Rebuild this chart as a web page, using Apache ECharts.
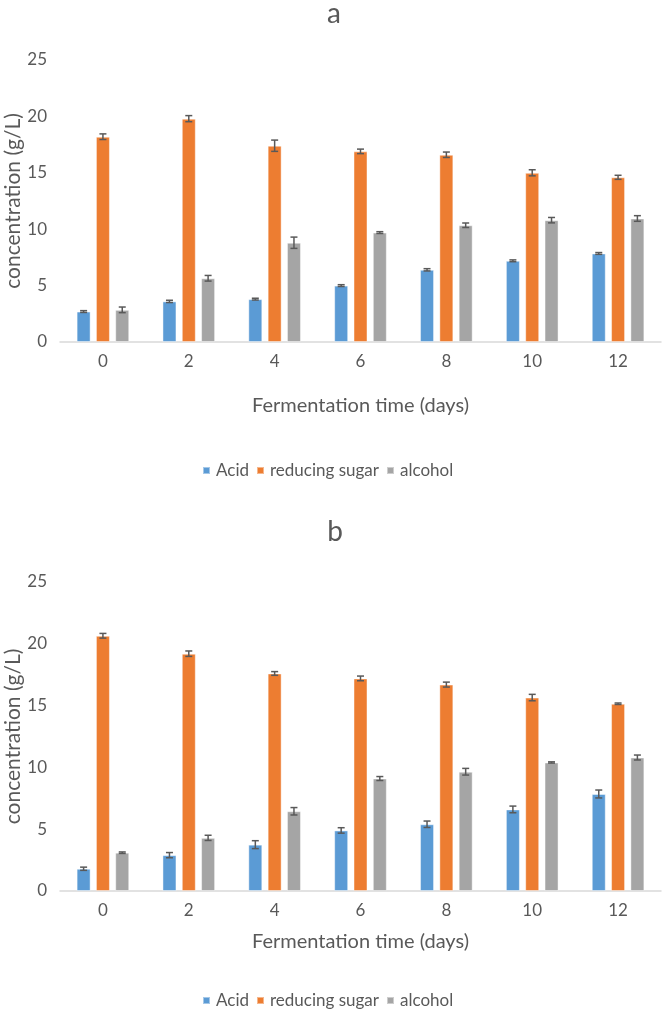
<!DOCTYPE html>
<html>
<head>
<meta charset="utf-8">
<script src="https://cdn.jsdelivr.net/npm/echarts@6/dist/echarts.min.js"></script>
<style>
html,body{margin:0;padding:0;background:#fff;}
#chart{width:666px;height:1014px;}
</style>
</head>
<body>
<div id="chart"></div>
<script>
const categories = ['0', '2', '4', '6', '8', '10', '12'];
const yTicks = [0, 5, 10, 15, 20, 25];
const seriesNames = ['Acid', 'reducing sugar', 'alcohol'];

// Panel a
const aAcid = [2.7, 3.6, 3.8, 5.0, 6.4, 7.2, 7.85];
const aAcidErr = [0.08, 0.1, 0.08, 0.08, 0.1, 0.08, 0.08];
const aSugar = [18.2, 19.8, 17.4, 16.9, 16.6, 15.0, 14.6];
const aSugarErr = [0.25, 0.27, 0.5, 0.2, 0.24, 0.27, 0.18];
const aAlcohol = [2.85, 5.65, 8.8, 9.7, 10.35, 10.8, 10.95];
const aAlcoholErr = [0.25, 0.25, 0.5, 0.08, 0.2, 0.24, 0.25];

// Panel b
const bAcid = [1.8, 2.9, 3.75, 4.9, 5.4, 6.6, 7.85];
const bAcidErr = [0.13, 0.21, 0.32, 0.22, 0.26, 0.27, 0.32];
const bSugar = [20.65, 19.2, 17.6, 17.2, 16.7, 15.65, 15.15];
const bSugarErr = [0.19, 0.22, 0.15, 0.19, 0.2, 0.26, 0.06];
const bAlcohol = [3.1, 4.3, 6.45, 9.1, 9.65, 10.4, 10.8];
const bAlcoholErr = [0.06, 0.21, 0.3, 0.16, 0.27, 0.05, 0.2];

const colors = ['#5b9bd5', '#ed7d31', '#a5a5a5'];
const FONT = 'Lato';
const TXT = '#595959';
const BAR_W = 14;
const BAR_GAP = 0.38;
const STEP = BAR_W * (1 + BAR_GAP);

function errRender(offset) {
  return function (params, api) {
    const i = api.value(0), v = api.value(1), e = api.value(2);
    const x = api.coord([i, v])[0] + offset;
    const yh = api.coord([i, v + e])[1];
    const yl = api.coord([i, v - e])[1];
    const c = 3.5;
    const st = { stroke: '#595959', lineWidth: 1.5 };
    return {
      type: 'group',
      children: [
        { type: 'line', shape: { x1: x, y1: yh, x2: x, y2: yl }, style: st },
        { type: 'line', shape: { x1: x - c, y1: yh, x2: x + c, y2: yh }, style: st },
        { type: 'line', shape: { x1: x - c, y1: yl, x2: x + c, y2: yl }, style: st }
      ]
    };
  };
}

function panelSeries(gi, vals, errs) {
  const out = [];
  vals.forEach((arr, k) => {
    out.push({
      name: seriesNames[k], type: 'bar', xAxisIndex: gi, yAxisIndex: gi,
      data: arr, barWidth: BAR_W, barGap: (BAR_GAP * 100) + '%',
      itemStyle: { color: colors[k], borderColor: 'rgba(255,255,255,0.45)', borderWidth: 1 },
      emphasis: { disabled: true }, animation: false
    });
  });
  errs.forEach((arr, k) => {
    out.push({
      name: seriesNames[k], type: 'custom', xAxisIndex: gi, yAxisIndex: gi,
      renderItem: errRender((k - 1) * STEP),
      data: arr.map((e, i) => [i, vals[k][i], e]),
      z: 5, silent: true, animation: false,
      itemStyle: { color: colors[k] }
    });
  });
  return out;
}

function xAxis(gi, gap) {
  return {
    type: 'category', gridIndex: gi, data: categories,
    axisLine: { lineStyle: { color: '#d9d9d9', width: 1.5 } },
    axisTick: { show: false },
    axisLabel: { color: TXT, fontSize: 17, fontFamily: FONT, margin: 11 },
    name: 'Fermentation time (days)', nameLocation: 'middle', nameGap: gap,
    nameMoveOverlap: false,
    nameTextStyle: { color: TXT, fontSize: 20, fontFamily: FONT }
  };
}
function yAxis(gi) {
  return {
    type: 'value', gridIndex: gi, min: yTicks[0], max: yTicks[yTicks.length - 1], interval: 5,
    axisLine: { show: false }, axisTick: { show: false }, splitLine: { show: false },
    axisLabel: { color: TXT, fontSize: 17, fontFamily: FONT, margin: 13 },
    name: 'concentration (g/L)', nameLocation: 'middle', nameGap: 36, nameRotate: 90,
    nameMoveOverlap: false,
    nameTextStyle: { color: TXT, fontSize: 21, fontFamily: FONT }
  };
}

const legendBase = {
  data: seriesNames, icon: 'rect', itemWidth: 7, itemHeight: 7, itemGap: 7,
  textStyle: { color: TXT, fontSize: 17, fontFamily: FONT, padding: [0, 0, 0, 1] },
  selectedMode: false
};

const chart = echarts.init(document.getElementById('chart'), null, { renderer: 'canvas' });
chart.setOption({
  animation: false,
  title: [
    { text: 'a', left: 329, top: -5, textAlign: 'center', textStyle: { color: TXT, fontSize: 28, fontWeight: 'normal', fontFamily: FONT } },
    { text: 'b', left: 330, top: 513, textAlign: 'center', textStyle: { color: TXT, fontSize: 28, fontWeight: 'normal', fontFamily: FONT } }
  ],
  legend: [
    Object.assign({ top: 457, left: 197 }, legendBase),
    Object.assign({ top: 987, left: 197 }, legendBase)
  ],
  grid: [
    { left: 60, right: 5, top: 60, height: 282, outerBoundsMode: 'none', containLabel: false },
    { left: 60, right: 5, top: 582, height: 309, outerBoundsMode: 'none', containLabel: false }
  ],
  xAxis: [xAxis(0, 54), xAxis(1, 41)],
  yAxis: [yAxis(0), yAxis(1)],
  series: [].concat(
    panelSeries(0, [aAcid, aSugar, aAlcohol], [aAcidErr, aSugarErr, aAlcoholErr]),
    panelSeries(1, [bAcid, bSugar, bAlcohol], [bAcidErr, bSugarErr, bAlcoholErr])
  )
});
</script>
</body>
</html>
